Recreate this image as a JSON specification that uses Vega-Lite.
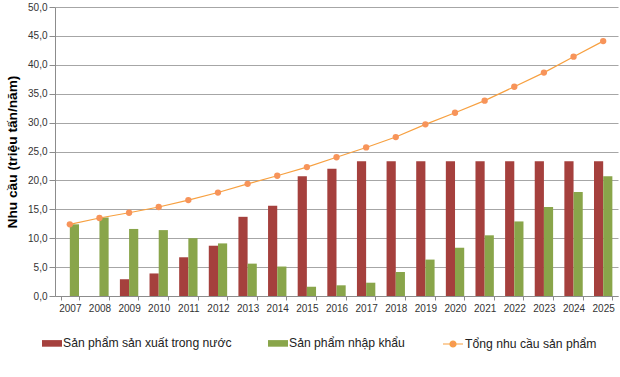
{
  "$schema": "https://vega.github.io/schema/vega-lite/v6.json",
  "width": 563,
  "height": 289,
  "autosize": "none",
  "padding": {"left": 55, "top": 7, "right": 2, "bottom": 81},
  "background": "white",
  "config": {
    "font": "Liberation Sans",
    "view": {"stroke": null}
  },
  "data": {
    "values": [
      {"year": "2007", "domestic": 0, "import": 12.4, "total": 12.4},
      {"year": "2008", "domestic": 0, "import": 13.6, "total": 13.5},
      {"year": "2009", "domestic": 2.9, "import": 11.6, "total": 14.4},
      {"year": "2010", "domestic": 3.9, "import": 11.4, "total": 15.4},
      {"year": "2011", "domestic": 6.7, "import": 10.0, "total": 16.6},
      {"year": "2012", "domestic": 8.7, "import": 9.1, "total": 17.9},
      {"year": "2013", "domestic": 13.7, "import": 5.6, "total": 19.4},
      {"year": "2014", "domestic": 15.6, "import": 5.1, "total": 20.8},
      {"year": "2015", "domestic": 20.7, "import": 1.6, "total": 22.3},
      {"year": "2016", "domestic": 22.0, "import": 1.85, "total": 24.0},
      {"year": "2017", "domestic": 23.3, "import": 2.3, "total": 25.7},
      {"year": "2018", "domestic": 23.3, "import": 4.15, "total": 27.5},
      {"year": "2019", "domestic": 23.3, "import": 6.3, "total": 29.7},
      {"year": "2020", "domestic": 23.3, "import": 8.35, "total": 31.7},
      {"year": "2021", "domestic": 23.3, "import": 10.5, "total": 33.8},
      {"year": "2022", "domestic": 23.3, "import": 12.9, "total": 36.2},
      {"year": "2023", "domestic": 23.3, "import": 15.4, "total": 38.65},
      {"year": "2024", "domestic": 23.3, "import": 18.0, "total": 41.4},
      {"year": "2025", "domestic": 23.3, "import": 20.7, "total": 44.1}
    ]
  },
  "encoding": {
    "x": {
      "field": "year",
      "type": "ordinal",
      "title": null,
      "scale": {"paddingInner": 0.38, "paddingOuter": 0.19},
      "axis": {
        "labelAngle": 0,
        "labelFontSize": 10,
        "labelColor": "#333333",
        "labelOverlap": false,
        "domainColor": "#8C8C8C",
        "tickColor": "#8C8C8C",
        "tickBand": "extent",
        "tickSize": 4,
        "labelPadding": 3
      }
    }
  },
  "layer": [
    {
      "transform": [{"fold": ["domestic", "import"], "as": ["series", "value"]}],
      "mark": {"type": "bar"},
      "encoding": {
        "y": {
          "field": "value",
          "type": "quantitative",
          "scale": {"domain": [0, 50]},
          "title": "Nhu cầu (triệu tấn/năm)",
          "axis": {
            "values": [0, 5, 10, 15, 20, 25, 30, 35, 40, 45, 50],
            "format": ".1f",
            "labelExpr": "replace(datum.label, '.', ',')",
            "labelOverlap": false,
            "labelFontSize": 10,
            "labelColor": "#333333",
            "gridColor": "#A6A6A6",
            "domainColor": "#8C8C8C",
            "tickColor": "#8C8C8C",
            "tickSize": 6,
            "labelPadding": 2,
            "titleFontSize": 13.7,
            "titleFontWeight": "bold",
            "titleColor": "#000000",
            "titlePadding": 8
          }
        },
        "xOffset": {"field": "series", "sort": ["domestic", "import"]},
        "color": {
          "field": "series",
          "type": "nominal",
          "scale": {"domain": ["domestic", "import"], "range": ["#A5403D", "#89A54A"]},
          "legend": {
            "title": null,
            "orient": "none",
            "legendX": -13,
            "legendY": 326,
            "direction": "horizontal",
            "columns": 2,
            "columnPadding": 36,
            "labelLimit": 400,
            "labelExpr": "datum.value == 'domestic' ? 'Sản phẩm sản xuất trong nước' : 'Sản phẩm nhập khẩu'",
            "labelFontSize": 12.2,
            "labelColor": "#222222",
            "symbolType": "M-1,-0.33H1V0.33H-1Z",
            "symbolSize": 400,
            "symbolStrokeWidth": 0,
            "labelOffset": 1
          }
        }
      }
    },
    {
      "mark": {"type": "line", "strokeWidth": 1.2},
      "encoding": {
        "y": {
          "field": "total",
          "type": "quantitative",
          "title": "Nhu cầu (triệu tấn/năm)",
          "axis": {
            "values": [0, 5, 10, 15, 20, 25, 30, 35, 40, 45, 50],
            "format": ".1f",
            "labelExpr": "replace(datum.label, '.', ',')",
            "labelOverlap": false,
            "labelFontSize": 10,
            "labelColor": "#333333",
            "gridColor": "#A6A6A6",
            "domainColor": "#8C8C8C",
            "tickColor": "#8C8C8C",
            "tickSize": 6,
            "labelPadding": 2,
            "titleFontSize": 13.7,
            "titleFontWeight": "bold",
            "titleColor": "#000000",
            "titlePadding": 8
          }
        },
        "stroke": {
          "datum": "Tổng nhu cầu sản phẩm",
          "scale": {"range": ["#F7A040"]},
          "legend": {
            "title": null,
            "orient": "none",
            "legendX": 387,
            "legendY": 326,
            "labelLimit": 400,
            "labelFontSize": 12.2,
            "labelColor": "#222222",
            "symbolType": "M-1,0H1M-0.3,0A0.3,0.3 0 1,1 0.3,0A0.3,0.3 0 1,1 -0.3,0",
            "symbolSize": 400,
            "symbolFillColor": "#F7945A",
            "symbolStrokeWidth": 1.2,
            "labelOffset": 1
          }
        }
      }
    },
    {
      "mark": {"type": "point", "filled": true, "size": 40, "opacity": 1, "color": "#F7945A"},
      "encoding": {
        "y": {
          "field": "total",
          "type": "quantitative",
          "title": "Nhu cầu (triệu tấn/năm)",
          "axis": {
            "values": [0, 5, 10, 15, 20, 25, 30, 35, 40, 45, 50],
            "format": ".1f",
            "labelExpr": "replace(datum.label, '.', ',')",
            "labelOverlap": false,
            "labelFontSize": 10,
            "labelColor": "#333333",
            "gridColor": "#A6A6A6",
            "domainColor": "#8C8C8C",
            "tickColor": "#8C8C8C",
            "tickSize": 6,
            "labelPadding": 2,
            "titleFontSize": 13.7,
            "titleFontWeight": "bold",
            "titleColor": "#000000",
            "titlePadding": 8
          }
        }
      }
    }
  ]
}
